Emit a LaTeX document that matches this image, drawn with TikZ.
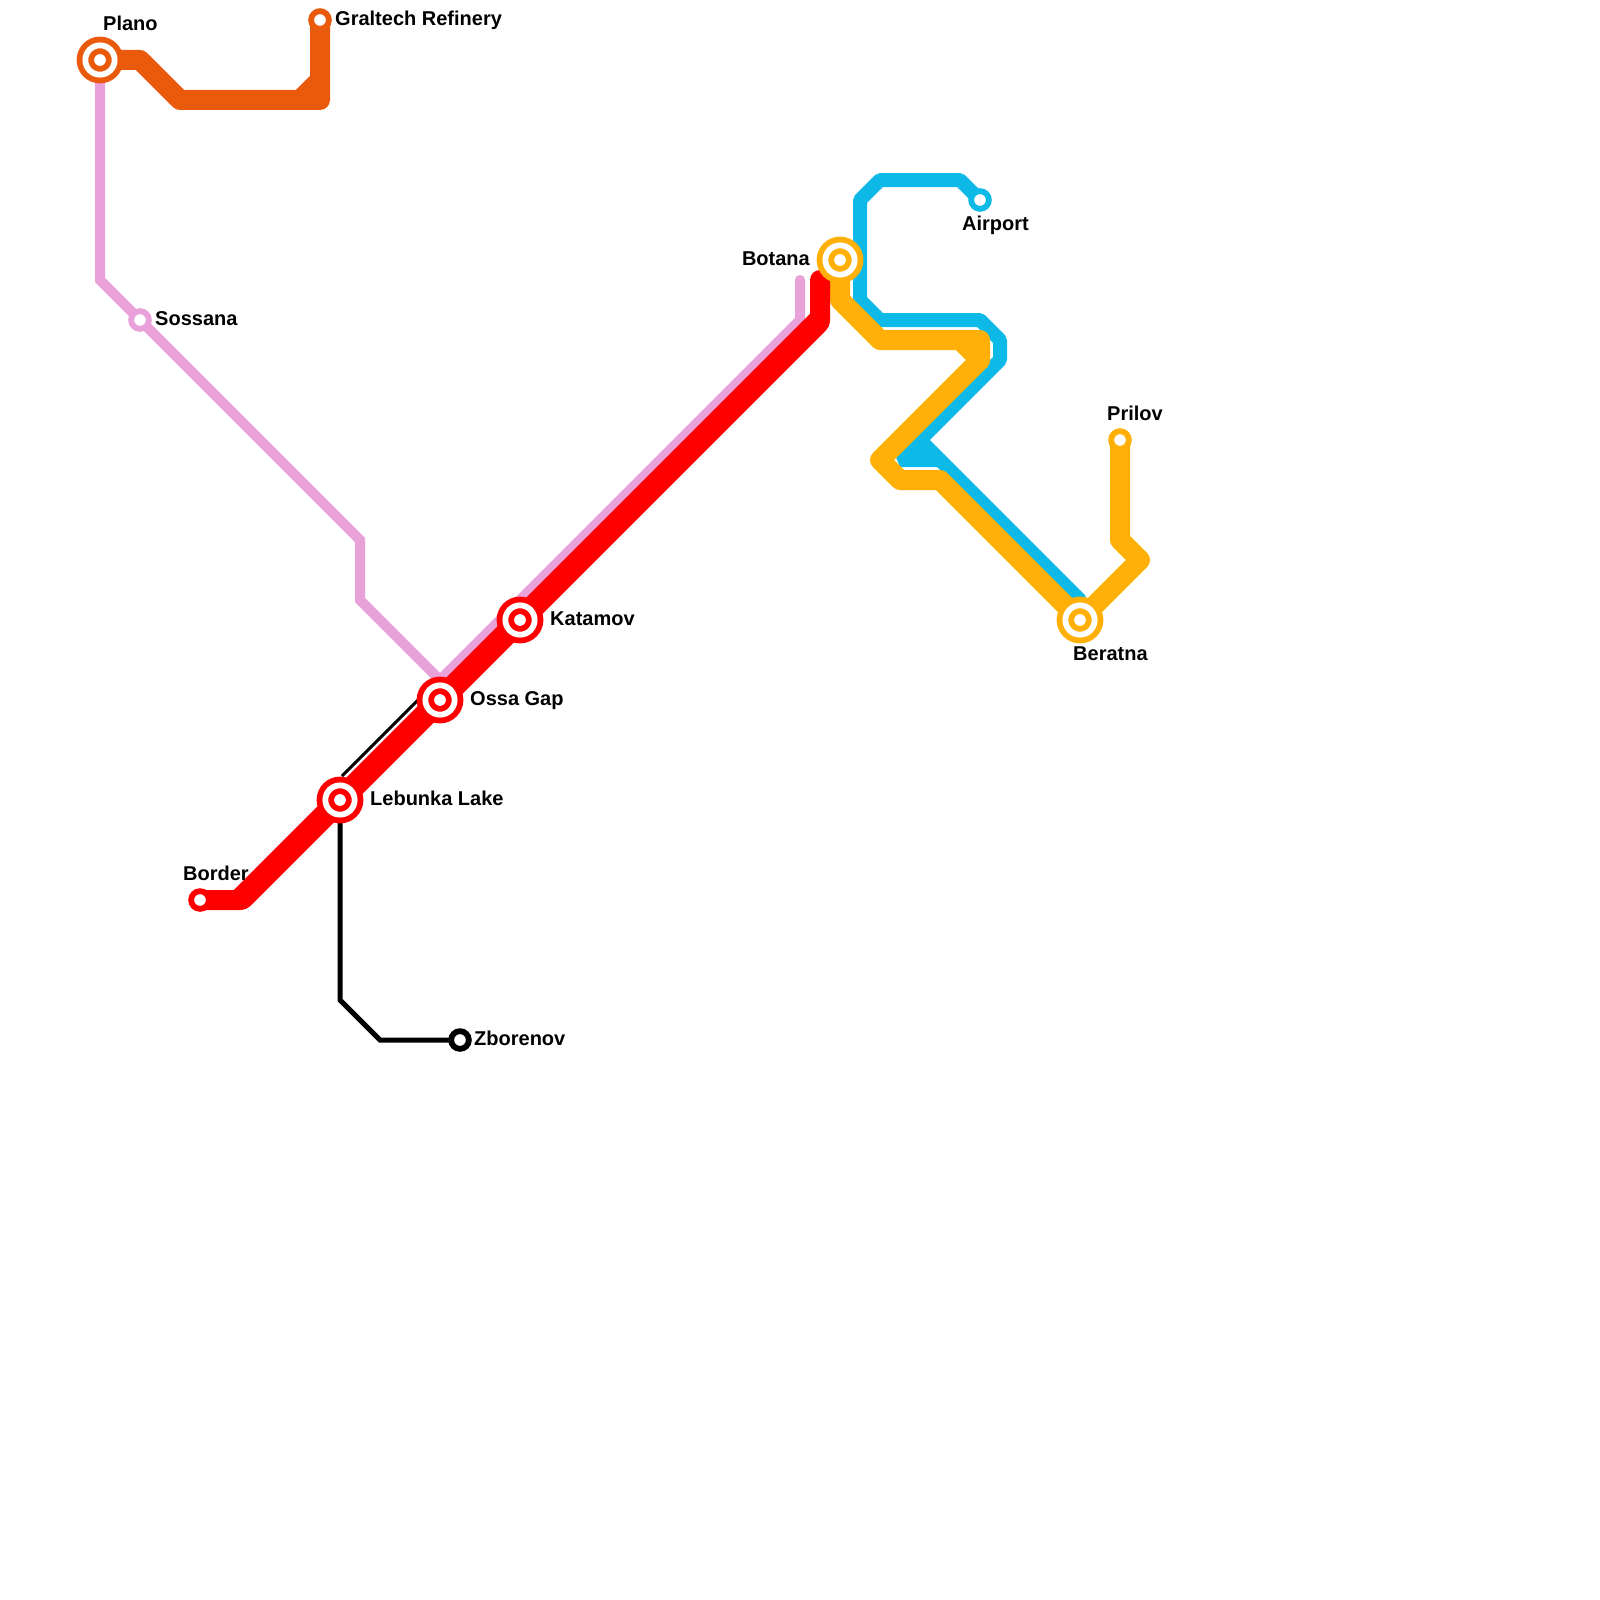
\documentclass[tikz,border=0pt]{standalone}
\usepackage{fontspec}
\setmainfont{Liberation Sans}
\usetikzlibrary{backgrounds}
\definecolor{lnred}{HTML}{FF0000}
\definecolor{lnorange}{HTML}{E95A0C}
\definecolor{lnamber}{HTML}{FFAF05}
\definecolor{lnblue}{HTML}{0DB9E6}
\definecolor{lnpink}{HTML}{E8A1D9}
\begin{document}
\begin{tikzpicture}[x=1pt,y=-1pt,
 stn/.style={circle,draw=#1,fill=white,line width=5.8pt,inner sep=0pt,outer sep=0pt,minimum size=17.7pt},
 hub/.style={stn=#1,double=white,double distance=5.8pt,minimum size=29.3pt},
 lbl/.style={font=\fontsize{20}{24}\selectfont\bfseries,inner sep=0pt,anchor=base west},
 route/.style={draw=#1,line width=20pt,line join=round,line cap=round}]
 \useasboundingbox (0,0) rectangle (1600,1600);
 % stations
 \node[hub=lnorange] (plano) at (100,60) {};
 \node[stn=lnorange] (graltech) at (320,20) {};
 \node[stn=lnpink] (sossana) at (140,320) {};
 \node[stn=lnred] (border) at (200,900) {};
 \node[hub=lnred] (lebunka) at (340,800) {};
 \node[hub=lnred] (ossa) at (440,700) {};
 \node[hub=lnred] (katamov) at (520,620) {};
 \node[stn=black] (zborenov) at (460,1040) {};
 \node[hub=lnamber] (botana) at (840,260) {};
 \node[stn=lnblue] (airport) at (980,200) {};
 \node[hub=lnamber] (beratna) at (1080,620) {};
 \node[stn=lnamber] (prilov) at (1120,440) {};
 % bends
 \foreach \n/\x/\y in {o1/140/60,o2/180/100,o3/320/100,o4/300/100,o5/320/80,
   p1/100/280,p2/360/540,p3/360/600,p4/800/320,p5/800/280,p6/440/680,
   r1/240/900,r2/820/320,r3/820/280,
   k1/340/1000,k2/380/1040,k3/342/776,k4/420/698,
   b1/960/180,b2/880/180,b3/860/200,b4/860/300,b5/880/320,b6/980/320,b7/1000/340,
   b8/1000/360,b9/900/460,b10/940/460,b11/1080/600,b12/920/440,
   a1/840/300,a2/880/340,a3/980/340,a4/980/360,a5/880/460,a6/900/480,a7/940/480,
   a8/960/340,a9/1140/560,a10/1120/540}
  \coordinate (\n) at (\x,\y);
 % lines go under the stations
 \begin{scope}[on background layer]
  \draw[route=lnblue,line width=14pt,line join=bevel,line cap=butt] (airport.center) -- (b1) -- (b2) -- (b3) -- (b4) -- (b5) -- (b6) -- (b7) -- (b8) -- (b9) -- (b10) -- (b11) -- (beratna.center);
  \draw[route=lnblue,line width=14pt,line cap=butt] (b12) -- (b10);
  \fill[lnblue] (b9) -- (b12) -- (b10) -- cycle;
  \draw[route=lnamber] (botana.center) -- (a1) -- (a2) -- (a3) -- (a4) -- (a5) -- (a6) -- (a7) -- (beratna.center) -- (a9) -- (a10) -- (prilov.center);
  \draw[route=lnamber] (a8) -- (a4);
  \draw[route=lnpink,line width=10pt,line join=miter,line cap=butt] (plano.center) -- (p1) -- (sossana.center) -- (p2) -- (p3) -- (p6) -- (p4) -- (p5);
  \fill[lnpink] (p5) circle (5pt);
  \draw[line width=5pt,line join=miter] (zborenov.center) -- (k2) -- (k1) -- (lebunka.center);
  \draw[line width=3pt] (k3) -- (k4);
  \draw[route=lnred] (border.center) -- (r1) -- (lebunka.center) -- (ossa.center) -- (katamov.center) -- (r2) -- (r3);
  \draw[lnred,line width=23pt,line cap=round,shift={(0.5,0.5)},shorten <=2.5pt,shorten >=2.5pt] (r1) -- (r2);
  \draw[route=lnorange] (plano.center) -- (o1) -- (o2) -- (o3) -- (o5) -- (graltech.center);
  \draw[route=lnorange] (o4) -- (o5);
 \end{scope}
 % labels
 \foreach \n/\x/\y/\t in {tplano/103/31/Plano,tgraltech/335/26/Graltech Refinery,
   tsossana/155/325/Sossana,tairport/962/230/Airport,tprilov/1107/420/Prilov,
   tberatna/1073/660/Beratna,tkatamov/550/625/Katamov,tossa/470/705/Ossa Gap,
   tlebunka/370/805/Lebunka Lake,tborder/183/880/Border,tzborenov/474/1045/Zborenov}
  \node[lbl] (\n) at (\x,\y) {\t};
 \node[lbl,anchor=base east] (tbotana) at (810,265) {Botana};
\end{tikzpicture}
\end{document}
